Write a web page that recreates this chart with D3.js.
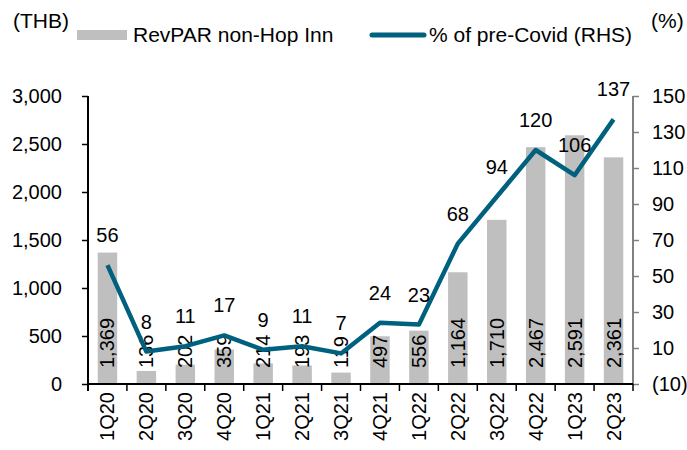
<!DOCTYPE html>
<html>
<head>
<meta charset="utf-8">
<script src="https://cdn.jsdelivr.net/npm/d3@7"></script>
<style>
  body { margin: 0; background: #fff; }
  svg text { font-family: "Liberation Sans", Arial, sans-serif; fill: #000; }
</style>
</head>
<body>
<div id="chart"></div>
<script>
const quarters = ["1Q20", "2Q20", "3Q20", "4Q20", "1Q21", "2Q21", "3Q21", "4Q21", "1Q22", "2Q22", "3Q22", "4Q22", "1Q23", "2Q23"];
const revpar = [1369, 136, 202, 359, 214, 193, 119, 497, 556, 1164, 1710, 2467, 2591, 2361];
const revparLabels = ["1,369", "136", "202", "359", "214", "193", "119", "497", "556", "1,164", "1,710", "2,467", "2,591", "2,361"];
const pctPreCovid = [56, 8, 11, 17, 9, 11, 7, 24, 23, 68, 94, 120, 106, 137];
const leftTicks = [0, 500, 1000, 1500, 2000, 2500, 3000];
const rightTicks = [-10, 10, 30, 50, 70, 90, 110, 130, 150];

const width = 687, height = 450;
const plotLeft = 88, plotRight = 633, plotTop = 96, plotBottom = 384;

const svg = d3.select("#chart").append("svg")
    .attr("width", width)
    .attr("height", height);

const x = d3.scaleBand().domain(quarters).range([plotLeft, plotRight]).paddingInner(0.5).paddingOuter(0.25);
const yL = d3.scaleLinear().domain([0, 3000]).range([plotBottom, plotTop]);
const yR = d3.scaleLinear().domain([-10, 150]).range([plotBottom, plotTop]);

// bars
svg.append("g")
    .selectAll("rect")
    .data(revpar)
    .enter().append("rect")
    .attr("x", (d, i) => x(quarters[i]))
    .attr("width", x.bandwidth())
    .attr("y", d => yL(d))
    .attr("height", d => yL(0) - yL(d))
    .attr("fill", "#bfbfbf");

// left axis
const axisL = svg.append("g")
    .attr("transform", `translate(${plotLeft},0)`)
    .call(d3.axisLeft(yL).tickValues(leftTicks).tickFormat(d3.format(",")).tickSize(6).tickPadding(20));
axisL.select(".domain").attr("stroke", "#000").attr("stroke-width", 2).attr("d", `M0,${plotTop}V${plotBottom + 7}`);
axisL.selectAll(".tick line").attr("stroke", "#000").attr("stroke-width", 1.5);
axisL.selectAll(".tick text").style("font-size", "20px").attr("font-family", null);

// right axis
const axisR = svg.append("g")
    .attr("transform", `translate(${plotRight},0)`)
    .call(d3.axisRight(yR).tickValues(rightTicks)
        .tickFormat(d => d < 0 ? `(${-d})` : d).tickSize(6).tickPadding(13));
axisR.select(".domain").attr("stroke", "#808080").attr("stroke-width", 2).attr("d", `M0,${plotTop}V${plotBottom}`);
axisR.selectAll(".tick line").attr("stroke", "#808080").attr("stroke-width", 1.5);
axisR.selectAll(".tick text").style("font-size", "20px").attr("font-family", null);

// bottom axis with ticks between categories
const xAxis = svg.append("g");
xAxis.append("line")
    .attr("x1", plotLeft).attr("x2", plotRight)
    .attr("y1", plotBottom).attr("y2", plotBottom)
    .attr("stroke", "#000").attr("stroke-width", 2);
xAxis.selectAll("line.tk")
    .data(d3.range(quarters.length + 1))
    .enter().append("line")
    .attr("class", "tk")
    .attr("x1", i => plotLeft + i * x.step())
    .attr("x2", i => plotLeft + i * x.step())
    .attr("y1", plotBottom).attr("y2", plotBottom + 7)
    .attr("stroke", "#000").attr("stroke-width", 1.5);
xAxis.selectAll("text")
    .data(quarters)
    .enter().append("text")
    .attr("transform", d => `translate(${x(d) + x.bandwidth() / 2},${plotBottom + 8}) rotate(-90)`)
    .attr("text-anchor", "end")
    .attr("dy", "0.35em")
    .style("font-size", "20px")
    .text(d => d);

// bar labels (inside base, rotated)
svg.append("g")
    .selectAll("text")
    .data(revparLabels)
    .enter().append("text")
    .attr("transform", (d, i) => `translate(${x(quarters[i]) + x.bandwidth() / 2},${plotBottom - 16}) rotate(-90)`)
    .attr("text-anchor", "start")
    .attr("dy", "0.35em")
    .style("font-size", "20px")
    .text(d => d);

// line
const line = d3.line()
    .x((d, i) => x(quarters[i]) + x.bandwidth() / 2)
    .y(d => yR(d));

svg.append("path")
    .datum(pctPreCovid)
    .attr("d", line)
    .attr("fill", "none")
    .attr("stroke", "#00617e")
    .attr("stroke-width", 4.5)
    .attr("stroke-linejoin", "round");

svg.append("g")
    .selectAll("text")
    .data(pctPreCovid)
    .enter().append("text")
    .attr("x", (d, i) => x(quarters[i]) + x.bandwidth() / 2)
    .attr("y", d => yR(d) - 23)
    .attr("text-anchor", "middle")
    .style("font-size", "20px")
    .text(d => d);

// axis titles
svg.append("text").attr("x", 13).attr("y", 28).style("font-size", "21px").text("(THB)");
svg.append("text").attr("x", 651).attr("y", 28).style("font-size", "21px").text("(%)");

// legend
const legend = svg.append("g");
legend.append("rect")
    .attr("x", 77).attr("y", 30).attr("width", 50).attr("height", 10)
    .attr("fill", "#bfbfbf");
legend.append("text").attr("x", 133).attr("y", 42).style("font-size", "21px").text("RevPAR non-Hop Inn");
legend.append("line")
    .attr("x1", 372).attr("x2", 424).attr("y1", 35).attr("y2", 35)
    .attr("stroke", "#00617e").attr("stroke-width", 5).attr("stroke-linecap", "round");
legend.append("text").attr("x", 429).attr("y", 42).style("font-size", "21px").text("% of pre-Covid (RHS)");
</script>
</body>
</html>
